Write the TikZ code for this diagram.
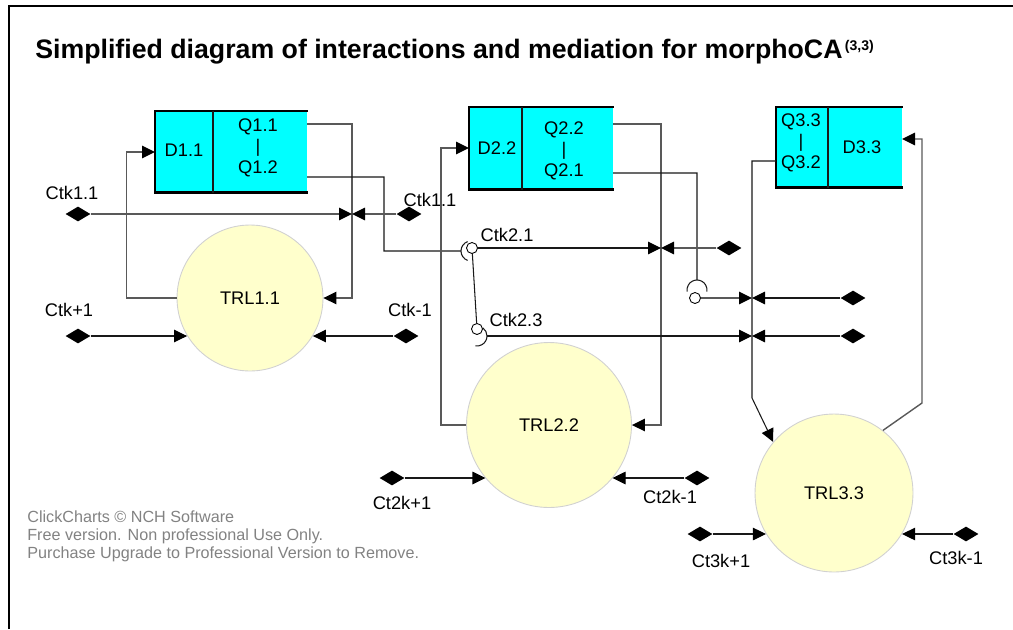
\documentclass[tikz,border=0pt]{standalone}
\usepackage{fontspec}
\setmainfont{Liberation Sans}
\usetikzlibrary{arrows.meta,shapes.geometric}
\definecolor{boxcyan}{RGB}{0,255,255}
\definecolor{trlyellow}{RGB}{255,255,204}
\definecolor{markgray}{RGB}{130,130,130}

\begin{document}
\begin{tikzpicture}[x=0.02cm,y=-0.02cm,
    every node/.style={font=\fontsize{10.4}{11.9}\selectfont},
    link/.style={black!90,line width=0.6pt},
    greylink/.style={black!65,line width=0.8pt},
    arr/.style={-{Triangle[length=2.6mm,width=2.5mm,color=black]}},
    trl/.style={circle,draw=black!18,line width=0.5pt,fill=trlyellow,inner sep=0pt},
    pin/.style={diamond,fill=black,inner sep=0pt,minimum width=5mm,minimum height=3mm},
    lolli/.style={circle,draw=black,fill=white,line width=0.5pt,inner sep=0pt,minimum size=2.2mm},
    qbox/.style={fill=boxcyan,inner sep=0pt,anchor=north west},
    boxedge/.style={line width=1.5pt}]
  \useasboundingbox (0,0) rectangle (1013,629);
  \draw[line width=1.6pt] (9,629) -- (9,6) -- (1013,6);

  \node[anchor=base west,inner sep=0pt,font=\fontsize{15.2}{18}\selectfont\bfseries] (title) at (35,58)
    {Simplified diagram of interactions and mediation for morphoCA\raisebox{4.5pt}{\fontsize{8}{9}\selectfont\,(3,3)}};

  \node[qbox,minimum width=3.04cm,minimum height=1.62cm] (box1) at (155,111) {};
  \node[qbox,minimum width=2.88cm,minimum height=1.64cm] (box2) at (469,107) {};
  \node[qbox,minimum width=2.52cm,minimum height=1.60cm] (box3) at (776,107) {};
  \foreach \b/\dx in {box1/58,box2/53,box3/52} {
    \draw[boxedge] (\b.north east) -- (\b.north west) -- (\b.south west) -- (\b.south east);
    \draw[link] ([xshift=\dx*0.02cm]\b.north west) -- ([xshift=\dx*0.02cm]\b.south west);
  }
  \node (d11) at (184,150) {D1.1};
  \node[align=center] (q1) at (258,148) {Q1.1\\|\\Q1.2};
  \node (d22) at (497,148) {D2.2};
  \node[align=center] (q2) at (564,151) {Q2.2\\|\\Q2.1};
  \node[align=center] (q3) at (801,143) {Q3.3\\|\\Q3.2};
  \node (d33) at (862,147) {D3.3};

  \node[trl,minimum size=2.92cm] (trl11) at (250,298) {TRL1.1};
  \node[trl,minimum size=3.30cm] (trl22) at (549,425) {TRL2.2};
  \node[trl,minimum size=3.16cm] (trl33) at (834,493) {TRL3.3};

  \coordinate (q11o) at (307,124);
  \coordinate (q12o) at (307,177);
  \coordinate (d11i) at (155,152);
  \coordinate (q22o) at (613,124);
  \coordinate (q21o) at (613,173);
  \coordinate (d22i) at (469,148);
  \coordinate (q32o) at (776,161);
  \coordinate (d33i) at (902,139);
  \coordinate (j11) at (352,214);
  \coordinate (j21) at (661,248);
  \coordinate (j31) at (752,298);
  \coordinate (j23) at (752,336);
  \coordinate (s21) at (461,251);
  \coordinate (s23) at (487,336);
  \coordinate (s31) at (697,280);

  \node[pin] (ctk11a) at (78,214) {};
  \node[pin] (ctk11b) at (409,214) {};
  \node[pin] (ctkp) at (78,336) {};
  \node[pin] (ctkm) at (406,336) {};
  \node[pin] (ctk21) at (729,248) {};
  \node[pin] (ctk31) at (853,298) {};
  \node[pin] (ctk23) at (853,336) {};
  \node[pin] (ct2kp) at (392,478) {};
  \node[pin] (ct2km) at (697,478) {};
  \node[pin] (ct3kp) at (700,534) {};
  \node[pin] (ct3km) at (966,534) {};

  \node[lolli] (l21) at (472,248) {};
  \node[lolli] (l23) at (477,329) {};
  \node[lolli] (l31) at (695,298) {};

  \node (lctk11a) at (72,193) {Ctk1.1};
  \node (lctk11b) at (430,200) {Ctk1.1};
  \node (lctkp) at (69,310) {Ctk+1};
  \node (lctkm) at (410,310) {Ctk-1};
  \node (lctk21) at (507,235) {Ctk2.1};
  \node (lctk23) at (516,320) {Ctk2.3};
  \node (lct2kp) at (402,503) {Ct2k+1};
  \node (lct2km) at (670,497) {Ct2k-1};
  \node (lct3kp) at (721,561) {Ct3k+1};
  \node (lct3km) at (956,558) {Ct3k-1};

  \draw[greylink,arr] (q11o) -| (j11) |- (trl11.east);
  \draw[greylink,arr] (trl11.west) -- ++(-50,0) |- (d11i);
  \draw[link] (q12o) -- ++(77,0) |- (s21) arc[start angle=180,end angle=110,radius=10]
    (s21) arc[start angle=180,end angle=250,radius=10];
  \draw[greylink,arr] (ctk11a) -- (j11);
  \draw[greylink,arr] (ctk11b) -- (j11);
  \draw[link,arr] (ctkp) -- (ctkp -| trl11.211);
  \draw[link,arr] (ctkm) -- (ctkm -| trl11.329);

  \draw[greylink,arr] (trl22.west) -- ++(-25,0) |- (d22i);
  \draw[greylink,arr] (q22o) -| (j21) |- (trl22.east);
  \draw[link] (q21o) -| (s31) arc[start angle=270,end angle=170,radius=10]
    (s31) arc[start angle=270,end angle=370,radius=10];
  \draw[link,arr] (l21) -- (j21);
  \draw[greylink,arr] (ctk21) -- (j21);
  \draw[link] (l21) -- (l23);
  \draw[link,arr] (s23) -- (j23);
  \draw[link] (s23) arc[start angle=0,end angle=-55,radius=10]
    (s23) arc[start angle=0,end angle=100,radius=10];
  \draw[greylink,arr] (l31) -- (j31);
  \draw[link,arr] (ctk31) -- (j31);
  \draw[link,arr] (ctk23) -- (j23);
  \draw[link,arr] (ct2kp) -- (ct2kp -| trl22.220);
  \draw[link,arr] (ct2km) -- (ct2km -| trl22.320);

  \draw[link,arr] (q32o) -| (j31) -- (j23) -- ++(0,62) -- (trl33.140);
  \draw[greylink,arr] (trl33.52) -- (922,403) |- (d33i);
  \draw[link,arr] (ct3kp) -- (ct3kp -| trl33.211);
  \draw[link,arr] (ct3km) -- (ct3km -| trl33.329);

  \node[anchor=north west,align=left,inner sep=0pt,text=markgray,font=\fontsize{9.2}{10.3}\selectfont] (notice) at (27,510)
    {ClickCharts © NCH Software\\Free version. Non professional Use Only.\\Purchase Upgrade to Professional Version to Remove.};
\end{tikzpicture}
\end{document}
